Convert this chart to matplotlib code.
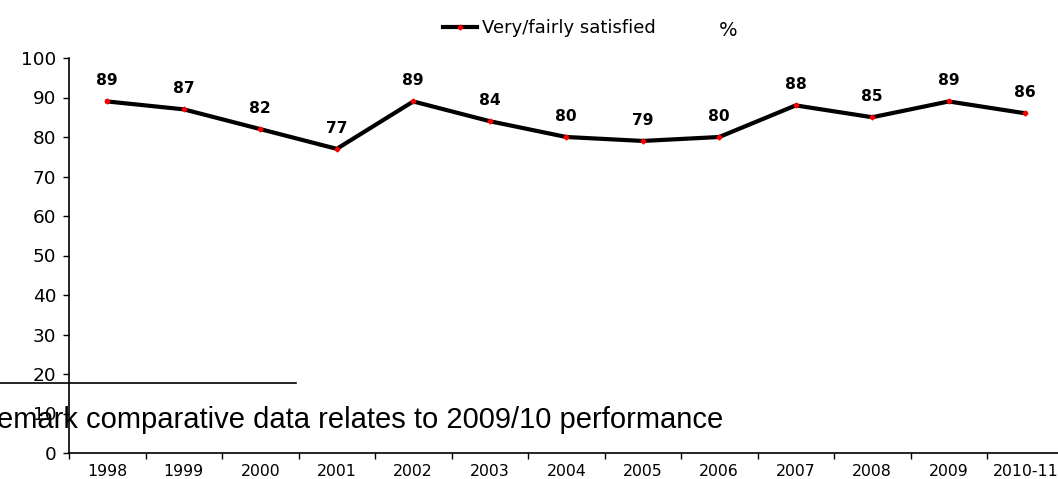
import numpy as np
import matplotlib
matplotlib.use('Agg')
import matplotlib.pyplot as plt
from matplotlib.lines import Line2D

plt.rcParams['font.family'] = ['DejaVu Sans']

# ── DATA ──────────────────────────────────────────────────────────────────────
years = ['1998', '1999', '2000', '2001', '2002', '2003', '2004',
         '2005', '2006', '2007', '2008', '2009', '2010-11']
satisfied = [89, 87, 82, 77, 89, 84, 80, 79, 80, 88, 85, 89, 86]
series_label = 'Very/fairly satisfied'
footnote = 'Remark comparative data relates to 2009/10 performance'

W, H = 1058, 479
fig = plt.figure(figsize=(W / 100, H / 100), dpi=100)

# axes box in pixels: left 69, bottom 453, top (100) 58, 76.5 px per category
ax_l, ax_b, ax_t = 69, 453, 58
ax_w = 76.5 * len(years)
ax = fig.add_axes([ax_l / W, (H - ax_b) / H, ax_w / W, (ax_b - ax_t) / H])

x = np.arange(len(years))
ax.plot(x, satisfied, color='black', lw=3, marker='D', ms=2.5,
        mfc='red', mec='red', clip_on=False, label=series_label)

for xi, v in zip(x, satisfied):
    ax.annotate(str(v), (xi, v), xytext=(0, 15), textcoords='offset points',
                ha='center', va='center', fontsize=11.2, fontweight='bold')

ax.set_xlim(-0.5, len(years) - 0.5)
ax.set_ylim(0, 100)
ax.set_yticks(range(0, 101, 10))
ax.tick_params(axis='y', labelsize=13.3, length=4, width=1, pad=5)

ax.set_xticks(x)
ax.set_xticklabels(years)
ax.set_xticks(np.arange(-0.5, len(years), 1), minor=True)
ax.tick_params(axis='x', which='major', length=0, labelsize=11.3, pad=8)
ax.tick_params(axis='x', which='minor', length=4, width=1)

for s in ['top', 'right']:
    ax.spines[s].set_visible(False)
for s in ['left', 'bottom']:
    ax.spines[s].set_linewidth(1.2)

# legend at top
fig.legend(handles=[Line2D([0], [0], color='black', lw=3, marker='D', ms=2.5,
                           mfc='red', mec='red')],
           labels=[series_label], loc='center left',
           bbox_to_anchor=(443 / W, 1 - 28 / H), borderaxespad=0, borderpad=0,
           frameon=False, fontsize=13, handlelength=1.9, handletextpad=0.25)
fig.text(728 / W, 1 - 30 / H, '%', fontsize=14, ha='center', va='center')

# footnote rule and text (cut off at left edge)
fig.add_artist(Line2D([0, 296 / W], [1 - 383 / H, 1 - 383 / H],
                      color='black', lw=1.2))
fig.text(723 / W, 1 - 420 / H, footnote, fontsize=21, ha='right', va='center',
         family='Liberation Sans')

fig.savefig('out.png', dpi=100)
